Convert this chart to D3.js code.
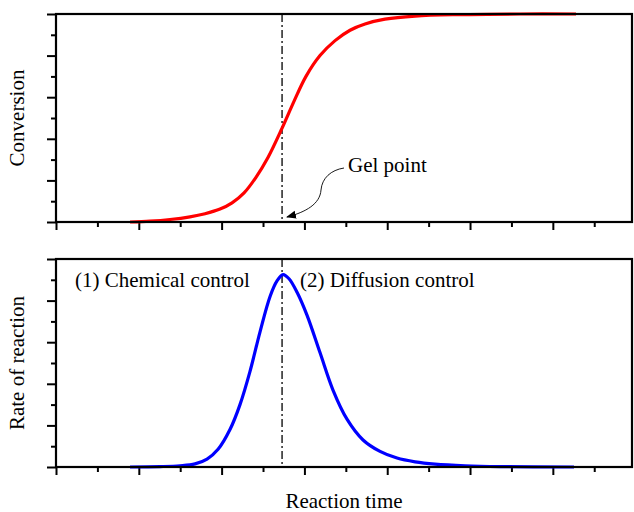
<!DOCTYPE html>
<html>
<head>
<meta charset="utf-8">
<script src="https://cdn.jsdelivr.net/npm/d3@7"></script>
<style>
  html, body { margin: 0; padding: 0; background: #fff; }
  svg { display: block; }
  svg text { font-family: "Liberation Serif", "Times New Roman", "DejaVu Serif", serif; fill: #000; }
</style>
</head>
<body>
<svg id="chart" width="634" height="512"></svg>
<script>
// Reaction time (arbitrary units) and the conversion curve
const conversionTime = [0.894, 1.135, 1.377, 1.618, 1.8, 1.981, 2.126, 2.271, 2.415, 2.56, 2.729, 2.874, 3.019, 3.188, 3.37, 3.551, 3.732, 3.973, 4.336, 4.879, 5.604, 6.28];
const conversion     = [0, 0.004, 0.012, 0.025, 0.04, 0.062, 0.092, 0.14, 0.215, 0.31, 0.45, 0.58, 0.70, 0.80, 0.872, 0.922, 0.952, 0.975, 0.99, 0.997, 1.0, 1.0];

// Rate of reaction curve
const rateTime = [0.894, 1.256, 1.498, 1.679, 1.824, 1.957, 2.101, 2.222, 2.343, 2.464, 2.585, 2.669, 2.742, 2.814, 2.911, 3.031, 3.188, 3.345, 3.514, 3.708, 3.913, 4.118, 4.336, 4.577, 4.94, 5.362, 6.256];
const rate     = [0, 0.002, 0.006, 0.015, 0.038, 0.085, 0.18, 0.30, 0.46, 0.65, 0.82, 0.895, 0.925, 0.905, 0.84, 0.73, 0.55, 0.37, 0.23, 0.13, 0.075, 0.043, 0.025, 0.014, 0.006, 0.002, 0];

const gelPoint = 2.73;

// Tick positions (no numeric labels are shown)
const xMajorTicks = [0, 1, 2, 3, 4, 5, 6];
const xMinorTicks = [0.5, 1.5, 2.5, 3.5, 4.5, 5.5, 6.5];
const yMajorTicks = [0, 0.2, 0.4, 0.6, 0.8, 1.0];
const yMinorTicks = [0.1, 0.3, 0.5, 0.7, 0.9];

const FONT = "'Liberation Serif', 'Times New Roman', 'DejaVu Serif', serif";

const svg = d3.select("#chart");
const left = 56, right = 632;

const x = d3.scaleLinear().domain([0, 6.956]).range([left, right]);

const panels = [
  { top: 14, bottom: 222, t: conversionTime, v: conversion, color: "#ff0000", label: "Conversion" },
  { top: 259, bottom: 467, t: rateTime, v: rate, color: "#0000ff", label: "Rate of reaction" }
];

panels.forEach(p => {
  const y = d3.scaleLinear().domain([0, 1]).range([p.bottom, p.top]);
  const g = svg.append("g");

  // bottom ticks
  g.append("g").attr("transform", `translate(0,${p.bottom})`)
    .call(d3.axisBottom(x).tickValues(xMajorTicks).tickSize(8).tickFormat(""))
    .call(a => a.select(".domain").remove());
  g.append("g").attr("transform", `translate(0,${p.bottom})`)
    .call(d3.axisBottom(x).tickValues(xMinorTicks).tickSize(5).tickFormat(""))
    .call(a => a.select(".domain").remove());

  // left ticks
  g.append("g").attr("transform", `translate(${left},0)`)
    .call(d3.axisLeft(y).tickValues(yMajorTicks).tickSize(9).tickFormat(""))
    .call(a => a.select(".domain").remove());
  g.append("g").attr("transform", `translate(${left},0)`)
    .call(d3.axisLeft(y).tickValues(yMinorTicks).tickSize(5).tickFormat(""))
    .call(a => a.select(".domain").remove());

  g.selectAll(".tick line").attr("stroke", "#000").attr("stroke-width", 2);

  // gel point marker
  g.append("line")
    .attr("x1", x(gelPoint)).attr("x2", x(gelPoint))
    .attr("y1", p.top).attr("y2", p.bottom)
    .attr("stroke", "#000").attr("stroke-width", 1.3)
    .attr("stroke-dasharray", "8,3,2,3");

  // curve
  const line = d3.line()
    .x((d, i) => x(p.t[i]))
    .y(d => y(d))
    .curve(d3.curveCatmullRom.alpha(0.5));
  g.append("path")
    .datum(p.v)
    .attr("d", line)
    .attr("fill", "none")
    .attr("stroke", p.color)
    .attr("stroke-width", 3.2)
    .attr("stroke-linejoin", "round");

  // frame
  g.append("rect")
    .attr("x", left).attr("y", p.top)
    .attr("width", right - left).attr("height", p.bottom - p.top)
    .attr("fill", "none").attr("stroke", "#000").attr("stroke-width", 2.2);

  // y label
  svg.append("text")
    .attr("transform", `translate(24,${(p.top + p.bottom) / 2}) rotate(-90)`)
    .attr("text-anchor", "middle")
    .attr("font-family", FONT)
    .attr("font-size", 21)
    .text(p.label);
});

// annotations
svg.append("defs").append("marker")
  .attr("id", "arrowhead")
  .attr("viewBox", "0 0 10 10")
  .attr("refX", 9).attr("refY", 5)
  .attr("markerWidth", 10).attr("markerHeight", 10)
  .attr("markerUnits", "userSpaceOnUse")
  .attr("orient", "auto")
  .append("path").attr("d", "M0,1 L10,5 L0,9 Z").attr("fill", "#000");

svg.append("path")
  .attr("d", "M344,168 C331,170 322,178 321,190 C320,204 306,212 287,217")
  .attr("fill", "none").attr("stroke", "#000").attr("stroke-width", 0.9)
  .attr("marker-end", "url(#arrowhead)");

const labels = [
  { x: 348, y: 172, anchor: "start", text: "Gel point" },
  { x: 75, y: 287, anchor: "start", text: "(1) Chemical control" },
  { x: 300, y: 287, anchor: "start", text: "(2) Diffusion control" },
  { x: (left + right) / 2, y: 508, anchor: "middle", text: "Reaction time" }
];
svg.selectAll("text.note")
  .data(labels)
  .join("text")
  .attr("class", "note")
  .attr("x", d => d.x).attr("y", d => d.y)
  .attr("text-anchor", d => d.anchor)
  .attr("font-family", FONT)
  .attr("font-size", 21)
  .text(d => d.text);
</script>
</body>
</html>
